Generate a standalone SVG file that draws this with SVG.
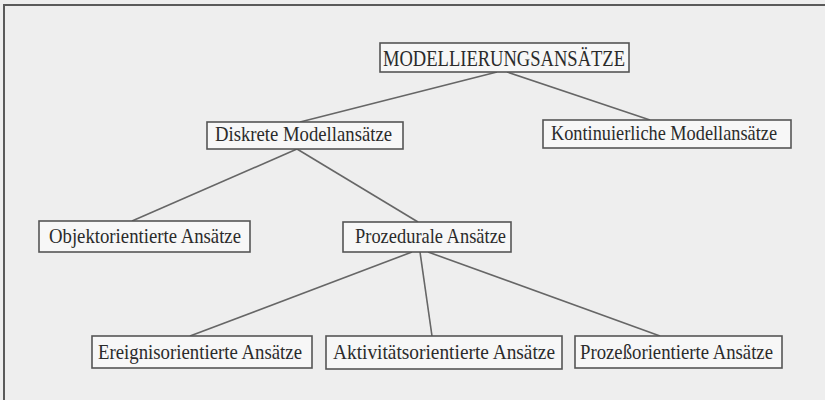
<svg xmlns="http://www.w3.org/2000/svg" width="825" height="400" viewBox="0 0 825 400">
<style>
.bg{fill:#eeeeee}
.frame{stroke:#5a5a5a;stroke-width:2;fill:none}
.box{fill:#f7f7f7;stroke:#555;stroke-width:1.6}
.lbl{font-family:"Liberation Serif","Times New Roman",serif;font-size:21px;fill:#2b2b2b}
.top{font-size:24px}
.conn line{stroke:#666;stroke-width:1.6}
</style>
<rect class="bg" x="0" y="0" width="825" height="400"/>
<path class="frame" d="M4,400 V5 H825"/>
<g class="conn" id="connectors">
<line x1="497" y1="72" x2="300" y2="122"/>
<line x1="507" y1="72" x2="650" y2="120"/>
<line x1="297" y1="149" x2="132" y2="221"/>
<line x1="297" y1="149" x2="418" y2="222"/>
<line x1="412" y1="252" x2="190" y2="336"/>
<line x1="420" y1="252" x2="432" y2="336"/>
<line x1="428" y1="252" x2="660" y2="336"/>
</g>
<g id="n_modell"><rect class="box" x="380" y="43" width="249" height="29"/><text class="lbl top" x="383" y="66" textLength="242" lengthAdjust="spacingAndGlyphs">MODELLIERUNGSANSÄTZE</text></g>
<g id="n_diskret"><rect class="box" x="207" y="122" width="196" height="27"/><text class="lbl" x="215" y="141" textLength="177" lengthAdjust="spacingAndGlyphs">Diskrete Modellansätze</text></g>
<g id="n_kontinuierlich"><rect class="box" x="543" y="120" width="248" height="28"/><text class="lbl" x="551" y="140" textLength="226" lengthAdjust="spacingAndGlyphs">Kontinuierliche Modellansätze</text></g>
<g id="n_objekt"><rect class="box" x="39" y="221" width="211" height="31"/><text class="lbl" x="49" y="243" textLength="192" lengthAdjust="spacingAndGlyphs">Objektorientierte Ansätze</text></g>
<g id="n_prozedural"><rect class="box" x="343" y="222" width="168" height="30"/><text class="lbl" x="355" y="243" textLength="151" lengthAdjust="spacingAndGlyphs">Prozedurale Ansätze</text></g>
<g id="n_ereignis"><rect class="box" x="92" y="336" width="220" height="32"/><text class="lbl" x="98" y="359" textLength="204" lengthAdjust="spacingAndGlyphs">Ereignisorientierte Ansätze</text></g>
<g id="n_aktivitaet"><rect class="box" x="326" y="336" width="236" height="33"/><text class="lbl" x="333" y="359" textLength="222" lengthAdjust="spacingAndGlyphs">Aktivitätsorientierte Ansätze</text></g>
<g id="n_prozess"><rect class="box" x="575" y="336" width="207" height="32"/><text class="lbl" x="580" y="359" textLength="193" lengthAdjust="spacingAndGlyphs">Prozeßorientierte Ansätze</text></g>
</svg>
